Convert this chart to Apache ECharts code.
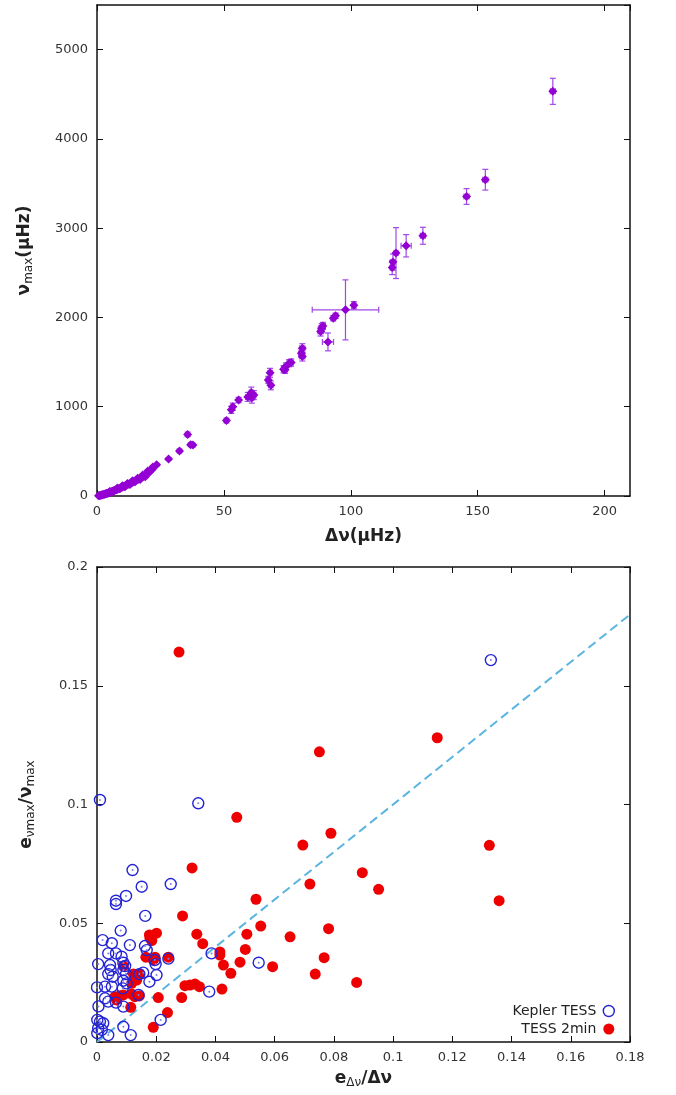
<!DOCTYPE html>
<html><head><meta charset="utf-8">
<script src="https://cdn.jsdelivr.net/npm/echarts@6/dist/echarts.min.js"></script>
<style>html,body{margin:0;padding:0;background:#fff}#c{width:676px;height:1095px}</style>
</head><body><div id="c"></div>
<script>
// ---- Top panel: Δν vs νmax with error bars ----
const dnu = [0.6,0.9,1.2,1.5,1.8,2.1,2.4,2.7,3.0,3.3,3.6,3.9,4.2,4.5,4.8,5.1,5.4,5.7,6.0,6.3,6.6,6.9,7.2,7.5,7.8,8.1,8.4,8.8,9.1,9.5,9.9,10.2,10.6,11.0,11.4,11.8,12.2,12.6,13.0,13.4,13.9,14.3,14.8,15.3,15.8,16.3,16.9,17.4,18.0,18.6,19.2,19.8,20.5,21.2,21.8,
  5.0,8.0,10.0,12.0,14.0,16.0,18.0,20.0,6.0,9.0,11.0,13.0,15.0,17.0,19.0,
  22.0,23.5,28.2,32.5,35.7,36.9,37.8,51.0,52.9,53.5,55.8,59.4,60.8,61.0,61.8,67.5,68.2,68.5,73.5,74.1,74.4,75.7,76.5,80.9,80.9,80.5,88.1,88.5,89.0,91.0,93.1,94.0,97.9,101.2,116.3,116.6,117.8,121.8,128.4,145.6,153.0,179.6];
const numax = [3,5,7,8,11,13,16,18,21,24,26,30,32,35,39,42,46,48,52,56,58,62,66,69,72,77,80,84,88,94,98,103,108,113,118,125,128,135,141,146,152,160,166,173,181,189,197,206,214,224,236,246,262,285,300,
  50,90,115,140,170,200,235,280,45,80,105,130,160,185,215,
  325,350,415,505,690,575,570,845,965,1000,1075,1110,1160,1100,1130,1300,1380,1240,1420,1413,1450,1488,1495,1656,1562,1600,1842,1880,1905,1726,1992,2018,2085,2138,2560,2620,2721,2803,2915,3355,3543,4533];
const dnuErr = [0.05,0.05,0.05,0.05,0.05,0.05,0.06,0.06,0.06,0.07,0.07,0.07,0.08,0.08,0.08,0.09,0.09,0.09,0.1,0.1,0.1,0.1,0.1,0.1,0.1,0.1,0.1,0.1,0.1,0.1,0.1,0.1,0.1,0.1,0.1,0.1,0.1,0.1,0.2,0.2,0.2,0.2,0.2,0.2,0.2,0.2,0.2,0.2,0.2,0.2,0.2,0.2,0.3,0.3,0.3,
  0.1,0.1,0.1,0.1,0.2,0.2,0.2,0.3,0.1,0.1,0.1,0.2,0.2,0.2,0.2,
  0.3,0.3,0.4,0.5,0.5,0.5,0.5,0.6,0.6,0.6,0.6,0.8,0.8,0.8,0.8,0.8,0.8,0.8,0.8,0.8,0.8,0.8,0.8,1.0,1.0,1.0,1.0,1.0,1.0,2.2,0.8,0.8,13.1,0.8,0.8,0.8,0.8,2.0,1.0,1.0,1.0,1.0];
const numaxErr = [1,1,1,1,1,1,1,1,1,2,2,2,2,2,2,2,2,2,3,3,3,3,3,3,3,4,4,4,4,4,5,5,5,5,5,6,6,6,6,7,7,7,8,8,8,9,9,10,10,10,11,12,12,13,14,
  2,4,5,6,8,9,10,12,2,4,5,6,7,9,10,
  15,15,15,20,25,20,20,25,40,40,30,50,60,60,50,40,50,50,40,40,40,40,40,50,50,50,50,50,40,100,30,30,336,40,80,90,285,125,95,88,116,146];

// ---- Bottom panel: relative errors ----
const keplerTESS = [[0.133,0.1608],[0.0010,0.1019],[0.0342,0.1005],[0.0120,0.0724],[0.0151,0.0654],[0.0249,0.0665],[0.0098,0.0615],
  [0.0064,0.0595],[0.0064,0.0581],[0.0163,0.0531],[0.0080,0.0469],[0.0019,0.0429],[0.0050,0.0416],[0.0111,0.0408],[0.0162,0.0404],
  [0.0168,0.0387],[0.0038,0.0373],[0.0064,0.0373],[0.0083,0.0359],[0.0004,0.0328],[0.0044,0.0324],[0.0046,0.0303],[0.0038,0.0286],
  [0.0053,0.0275],[0.0089,0.0334],[0.0095,0.0320],[0.0089,0.0303],[0.0098,0.0286],[0.0089,0.0258],[0.0100,0.0247],[0.0143,0.0286],
  [0.0156,0.0292],[0.0177,0.0254],[0.0201,0.0282],[0.0241,0.0351],[0.0195,0.0345],[0.0198,0.0328],[0.0000,0.0230],[0.0027,0.0233],
  [0.0050,0.0233],[0.0027,0.0184],[0.0038,0.0170],[0.0064,0.0166],[0.0089,0.0149],[0.0087,0.0226],[0.0140,0.0198],[0.0387,0.0373],
  [0.0546,0.0334],[0.0379,0.0212],[0.0215,0.0093],[0.0001,0.0093],[0.0010,0.0086],[0.0004,0.0058],[0.0021,0.0079],[0.0016,0.0051],
  [0.0001,0.0037],[0.0038,0.0029],[0.0089,0.0064],[0.0114,0.0029],[0.0005,0.0150]];
const tess2min = [[0.0277,0.1642],[0.0751,0.1222],[0.1149,0.1281],[0.0472,0.0946],[0.0790,0.0879],[0.0695,0.0829],[0.1325,0.0828],
  [0.0321,0.0733],[0.0896,0.0713],[0.0719,0.0665],[0.0951,0.0643],[0.0537,0.0601],[0.1358,0.0595],[0.0289,0.0531],[0.0553,0.0488],
  [0.0782,0.0477],[0.0337,0.0454],[0.0506,0.0454],[0.0652,0.0443],[0.0357,0.0414],[0.0415,0.0379],[0.0415,0.0366],[0.0501,0.0390],
  [0.0427,0.0324],[0.0483,0.0336],[0.0767,0.0355],[0.0593,0.0317],[0.0452,0.0289],[0.0737,0.0286],[0.0877,0.0251],[0.0297,0.0237],
  [0.0314,0.0240],[0.0331,0.0244],[0.0346,0.0233],[0.0422,0.0223],[0.0286,0.0187],[0.0238,0.0124],[0.0190,0.0062],[0.0207,0.0187],
  [0.0177,0.0451],[0.0201,0.0458],[0.0179,0.0437],[0.0185,0.0427],[0.0165,0.0357],[0.0190,0.0345],[0.0196,0.0357],[0.0241,0.0357],
  [0.0089,0.0320],[0.0134,0.0261],[0.0123,0.0286],[0.0143,0.0286],[0.0117,0.0247],[0.0061,0.0191],[0.0078,0.0195],[0.0089,0.0198],
  [0.0066,0.0177],[0.0117,0.0202],[0.0128,0.0191],[0.0143,0.0194],[0.0114,0.0146]];
const refLine = [[0,0],[0.18,0.18]];
const seriesNames = ['Kepler TESS','TESS 2min'];

const FONT = 'DejaVu Sans';
const BLUE = '#2323d6', RED = '#ee0000';
function plain(v){ return String(+v.toFixed(6)); }
function ax(extra){
  return Object.assign({
    type:'value', scale:false,
    axisLine:{show:true,onZero:false,lineStyle:{color:'#111',width:1.5}},
    axisTick:{show:true,inside:true,length:6,lineStyle:{color:'#111',width:1}},
    splitLine:{show:false},
    axisLabel:{color:'#333',fontSize:13,fontFamily:FONT,margin:9,formatter:plain}
  }, extra);
}
function mirror(extra){
  const a = ax(extra);
  a.axisLabel = {show:false};
  return a;
}
const nameRich = {
  b:{fontSize:17,fontWeight:'bold',fontFamily:FONT,color:'#222',lineHeight:20},
  s:{fontSize:12,fontFamily:FONT,color:'#222',lineHeight:10,verticalAlign:'bottom'}
};

const errData = dnu.map((d,i)=>[d, numax[i], dnuErr[i], numaxErr[i]]);
const topPts = dnu.map((d,i)=>[d, numax[i]]);

const chart = echarts.init(document.getElementById('c'), null, {renderer:'canvas'});
chart.setOption({
  animation:false,
  backgroundColor:'#fff',
  grid:[{left:97, top:5, width:533, height:491},{left:97, top:567, width:533, height:475}],
  xAxis:[
    ax({gridIndex:0,min:0,max:210,interval:50,position:'bottom',axisLabel:{color:'#333',fontSize:13,fontFamily:FONT,margin:9,showMaxLabel:false,formatter:plain},
      name:'{b|Δν(μHz)}',nameLocation:'middle',nameGap:31,nameTextStyle:{rich:nameRich}}),
    mirror({gridIndex:0,min:0,max:210,interval:50,position:'top'}),
    ax({gridIndex:1,min:0,max:0.18,interval:0.02,position:'bottom',
      name:'{b|e}{s|Δν}{b|/Δν}',nameLocation:'middle',nameGap:27,nameTextStyle:{rich:nameRich}}),
    mirror({gridIndex:1,min:0,max:0.18,interval:0.02,position:'top'})
  ],
  yAxis:[
    ax({gridIndex:0,min:0,max:5500,interval:1000,position:'left',axisLabel:{color:'#333',fontSize:13,fontFamily:FONT,margin:9,showMaxLabel:false,formatter:plain},
      name:'{b|ν}{s|max}{b|(μHz)}',nameLocation:'middle',nameGap:62,nameRotate:90,nameTextStyle:{rich:nameRich}}),
    mirror({gridIndex:0,min:0,max:5500,interval:1000,position:'right'}),
    ax({gridIndex:1,min:0,max:0.2,interval:0.05,position:'left',
      name:'{b|e}{s|νmax}{b|/ν}{s|max}',nameLocation:'middle',nameGap:60,nameRotate:90,nameTextStyle:{rich:nameRich}}),
    mirror({gridIndex:1,min:0,max:0.2,interval:0.05,position:'right'})
  ],
  legend:{
    data:[
      {name:seriesNames[0],icon:'circle',itemStyle:{color:'rgba(0,0,0,0)',borderColor:BLUE,borderWidth:1.4,opacity:1}},
      {name:seriesNames[1],icon:'circle',itemStyle:{color:RED,borderWidth:0,opacity:1}}
    ],
    orient:'vertical', right:56, top:999, align:'right',
    itemWidth:11, itemHeight:11, itemGap:4,
    textStyle:{fontSize:14,fontFamily:FONT,color:'#222',lineHeight:14,padding:[0,2,0,0]},
    selectedMode:false
  },
  series:[
    {
      type:'custom', xAxisIndex:0, yAxisIndex:0, data:errData, z:2, clip:true,
      renderItem:function(params, api){
        const x=api.value(0), y=api.value(1), xe=api.value(2), ye=api.value(3);
        const c=api.coord([x,y]);
        const t=api.coord([x,y+ye]), b=api.coord([x,y-ye]);
        const l=api.coord([x-xe,y]), r=api.coord([x+xe,y]);
        const cap=3;
        const st={stroke:'#a048e6',lineWidth:1.2,fill:null};
        return {type:'group',children:[
          {type:'line',shape:{x1:c[0],y1:t[1],x2:c[0],y2:b[1]},style:st},
          {type:'line',shape:{x1:c[0]-cap,y1:t[1],x2:c[0]+cap,y2:t[1]},style:st},
          {type:'line',shape:{x1:c[0]-cap,y1:b[1],x2:c[0]+cap,y2:b[1]},style:st},
          {type:'line',shape:{x1:l[0],y1:c[1],x2:r[0],y2:c[1]},style:st},
          {type:'line',shape:{x1:l[0],y1:c[1]-cap,x2:l[0],y2:c[1]+cap},style:st},
          {type:'line',shape:{x1:r[0],y1:c[1]-cap,x2:r[0],y2:c[1]+cap},style:st}
        ]};
      }
    },
    {
      type:'scatter', xAxisIndex:0, yAxisIndex:0, data:topPts, symbol:'diamond', symbolSize:9, z:3,
      itemStyle:{color:'#9400d3',opacity:1}
    },
    {
      type:'line', xAxisIndex:2, yAxisIndex:2, data:refLine, symbol:'none', z:2,
      lineStyle:{color:'#5ab4e0',width:2,type:[9,5]}
    },
    {
      name:seriesNames[1], type:'scatter', xAxisIndex:2, yAxisIndex:2, data:tess2min, symbol:'circle', symbolSize:11, z:3,
      itemStyle:{color:RED,opacity:1}
    },
    {
      name:seriesNames[0], type:'scatter', xAxisIndex:2, yAxisIndex:2, data:keplerTESS, symbol:'circle', symbolSize:11, z:4,
      itemStyle:{color:'rgba(0,0,0,0)',borderColor:BLUE,borderWidth:1.4,opacity:1}
    },
    {
      type:'scatter', xAxisIndex:2, yAxisIndex:2, data:keplerTESS, symbol:'circle', symbolSize:2, z:5,
      itemStyle:{color:'#8080e8',opacity:1}
    }
  ]
});
</script></body></html>
